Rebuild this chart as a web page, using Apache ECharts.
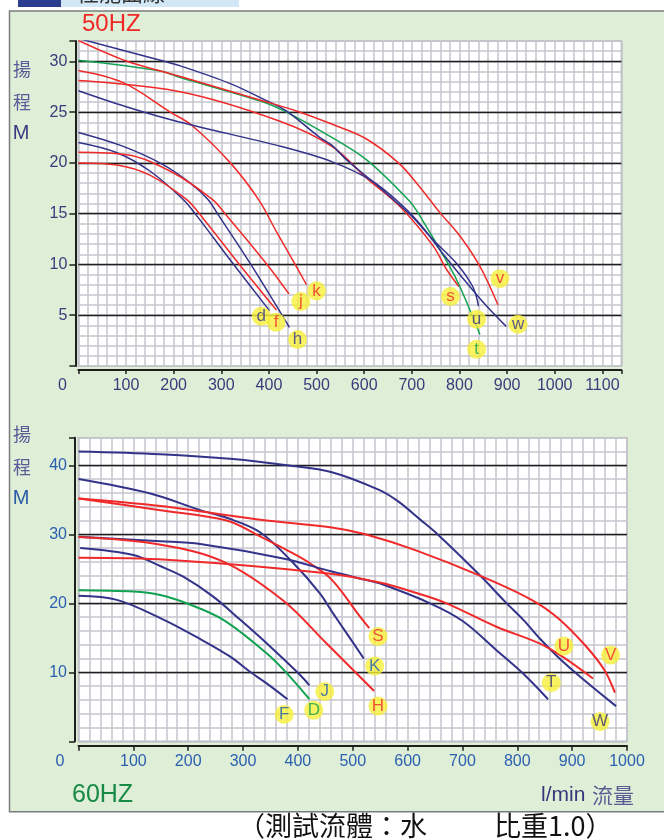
<!DOCTYPE html>
<html><head><meta charset="utf-8">
<script src="https://cdn.jsdelivr.net/npm/echarts@6/dist/echarts.min.js"></script>
<style>html,body{margin:0;padding:0;background:#fff}#c{width:664px;height:840px}</style>
</head><body><div id="c"></div>
<script>
// ===== 50HZ curves: [flow l/min, head m] =====
const top_d = [[0,22.0],[81,21.0],[150,19.2],[220,16.4],[245,15.0],[326,10.0],[401,5.45]];
const top_f = [[0,20.0],[81,19.8],[150,18.8],[227,16.4],[254,15.0],[338,10.0],[416,5.5]];
const top_h = [[0,23.0],[90,21.7],[175,19.9],[235,18.0],[272,16.4],[292,15.0],[362,10.0],[443,3.8]];
const top_j = [[0,21.05],[102,20.8],[200,19.0],[281,16.4],[308,15.0],[396,10.0],[442,7.1]];
const top_k = [[0,29.1],[94,27.9],[193,25.0],[238,23.7],[319,20.0],[378,16.4],[416,13.2],[455,10.0],[479,8.0]];
const top_s = [[0,28.1],[214,27.0],[423,24.1],[533,21.6],[605,18.5],[675,15.7],[745,11.8],[773,9.5],[799,7.8]];
const top_t = [[0,30.1],[172,29.05],[214,28.4],[388,26.0],[437,25.0],[514,23.0],[605,20.3],[694,16.3],[714,15.0],[777,10.0],[801,7.8],[843,3.1]];
const top_u = [[0,32.25],[172,30.1],[214,29.55],[319,27.8],[396,26.1],[437,25.1],[507,22.5],[533,21.7],[563,20.3],[617,18.2],[661,16.4],[703,14.6],[745,12.4],[794,10.1],[828,7.8],[840,5.9]];
const top_v = [[0,32.05],[102,30.0],[172,29.05],[214,28.5],[388,26.1],[458,25.1],[533,23.8],[603,22.4],[673,19.95],[717,17.6],[759,15.1],[801,12.8],[843,9.8],[881,6.0]];
const top_w = [[0,27.1],[102,25.5],[214,24.0],[423,21.65],[533,20.1],[617,18.2],[680,15.8],[724,13.6],[766,11.0],[815,8.2],[857,5.9],[898,3.9]];
const topLabels = [['d',384,4.9],['f',415,4.3],['h',460,2.6],['j',467,6.35],['k',500,7.4],['s',781,6.85],['t',836,1.65],['u',836,4.6],['v',885,8.6],['w',923,4.1]];

// ===== 60HZ curves =====
const bot_W = [[0,42.0],[149,41.6],[282,40.9],[380,40.0],[462,39.0],[549,36.4],[584,34.7],[622,32.2],[656,29.9],[735,23.8],[778,20.2],[811,17.6],[841,14.9],[877,12.0],[914,9.4],[980,5.1]];
const bot_K = [[0,38.0],[131,35.9],[222,33.5],[270,32.4],[331,30.3],[392,25.8],[440,21.45],[462,18.8],[489,15.65],[520,12.0]];
const bot_V = [[0,35.2],[150,34.1],[331,32.1],[462,31.0],[523,30.0],[614,27.7],[735,23.9],[826,20.5],[875,17.8],[926,13.7],[959,10.3],[978,7.05]];
const bot_S = [[0,35.2],[149,33.5],[270,32.0],[331,29.7],[392,27.2],[422,25.8],[462,23.4],[513,18.1],[530,16.4]];
const bot_T = [[0,29.65],[150,29.0],[222,28.6],[373,26.5],[462,24.6],[523,23.4],[549,22.9],[641,20.0],[701,17.4],[762,13.2],[810,9.85],[856,6.1]];
const bot_H = [[0,29.6],[150,28.5],[265,26.0],[373,20.4],[452,14.2],[539,7.3]];
const bot_J = [[3,28.0],[100,27.0],[149,25.4],[191,23.85],[245,21.0],[295,17.6],[343,14.2],[404,9.6],[421,8.1]];
const bot_U = [[0,26.6],[161,26.3],[452,24.35],[549,23.0],[622,21.35],[671,20.0],[762,16.6],[853,13.7],[938,9.1]];
const bot_D = [[0,21.9],[100,21.7],[149,21.2],[197,20.0],[264,17.6],[343,12.75],[380,9.85],[421,6.1]];
const bot_F = [[0,21.1],[70,20.5],[152,17.75],[220,14.9],[276,12.3],[314,10.0],[343,8.4],[381,6.1]];
const botLabels = [['F',375,3.9],['D',429,4.5],['J',449,7.2],['S',546,15.2],['K',540,10.9],['H',546,5.1],['T',862,8.5],['U',885,13.8],['V',970,12.5],['W',951,2.85]];

// axis ranges
const topX = {min:0, max:1140, major:100, minor:20};
const topY = {min:0, max:32, major:5, minor:1};
const botX = {min:0, max:1000, major:100, minor:20};
const botY = {min:0, max:44, major:10, minor:2};

// ===== styles =====
const NAVY = '#33338a', RED = '#f02a2a', GREEN = '#12a352';
const topCurves = [[top_d,NAVY],[top_f,RED],[top_h,NAVY],[top_j,RED],[top_k,RED],[top_s,RED],[top_t,GREEN],[top_u,NAVY],[top_v,RED],[top_w,NAVY]];
const botCurves = [[bot_W,NAVY],[bot_K,NAVY],[bot_V,RED],[bot_S,RED],[bot_T,NAVY],[bot_H,RED],[bot_J,NAVY],[bot_U,RED],[bot_D,GREEN],[bot_F,NAVY]];
const topLabelColor = {d:NAVY,f:RED,h:NAVY,j:RED,k:RED,s:RED,t:GREEN,u:NAVY,v:RED,w:NAVY};
const botLabelColor = {F:'#1f5db3',D:GREEN,J:'#1f5db3',S:RED,K:'#1f5db3',H:RED,T:'#34347c',U:RED,V:RED,W:'#34347c'};
const FONT = '"Liberation Sans", Arial, sans-serif';
const CJK = '"Noto Sans CJK TC", "Noto Sans CJK SC", sans-serif';
const TOPC = '#3a3a7c', BOTC = '#2a60b0';
const GRAY = '#c4c4cc', BLACK = '#1e1e1e';

function minorX(g, r){ return {gridIndex:g, type:'value', position:'bottom', min:r.min, max:r.max, interval:r.minor,
  axisLine:{show:false,onZero:false}, axisTick:{show:false}, axisLabel:{show:false},
  splitLine:{show:true, lineStyle:{color:GRAY, width:1.5}}, z:0}; }
function minorY(g, r){ return {gridIndex:g, type:'value', position:'left', min:r.min, max:r.max, interval:r.minor,
  axisLine:{show:false,onZero:false}, axisTick:{show:false}, axisLabel:{show:false},
  splitLine:{show:true, lineStyle:{color:GRAY, width:1.5}}, z:0}; }
function mainX(g, r, color, zeroPad, tickLen, offset){ return {gridIndex:g, type:'value', position:'bottom', min:r.min, max:r.max, interval:r.major, offset:offset,
  axisLine:{show:true, onZero:false, lineStyle:{color:BLACK, width:2}},
  axisTick:{show:true, length:tickLen, lineStyle:{color:BLACK, width:1.5}},
  axisLabel:{margin:8, color:color, fontSize:16, fontFamily:FONT,
    formatter:function(v){ if(v===0) return '{z|0}'; return (v % r.major === 0) ? String(v) : ''; },
    rich:{z:{padding:[0,zeroPad,0,0], color:color, fontSize:16, fontFamily:FONT}}},
  splitLine:{show:false}, z:1}; }
function mainY(g, r, color, offset){ return {gridIndex:g, type:'value', position:'left', min:r.min, max:r.max, interval:r.major, offset:offset,
  axisLine:{show:true, onZero:false, lineStyle:{color:BLACK, width:2}},
  axisTick:{show:true, length:6, lineStyle:{color:BLACK, width:1.5}},
  axisLabel:{margin:8, color:color, fontSize:16, fontFamily:FONT,
    formatter:function(v){ return (v===r.min || v===r.max || v % r.major !== 0) ? '' : String(v); }},
  splitLine:{show:true, showMinLine:false, showMaxLine:false, lineStyle:{color:BLACK, width:1.3}}, z:1}; }

const series = [];
topCurves.forEach(function(c){ series.push({type:'line', xAxisIndex:1, yAxisIndex:1, data:c[0], showSymbol:false, smooth:0.35, silent:true, lineStyle:{color:c[1], width:1.5}, z:3}); });
botCurves.forEach(function(c){ series.push({type:'line', xAxisIndex:3, yAxisIndex:3, data:c[0], showSymbol:false, smooth:0.35, silent:true, lineStyle:{color:c[1], width:2}, z:3}); });
function labelSeries(list, colors, xi, yi){ return {type:'scatter', xAxisIndex:xi, yAxisIndex:yi, symbol:'circle', symbolSize:19, silent:true, z:5,
  itemStyle:{color:'#f8ef3a'},
  label:{show:true, position:'inside', formatter:'{b}', fontSize:17, fontFamily:FONT},
  data:list.map(function(l){ return {name:l[0], value:[l[1], l[2]], label:{color:colors[l[0]]}}; })}; }
series.push(labelSeries(topLabels, topLabelColor, 1, 1));
series.push(labelSeries(botLabels, botLabelColor, 3, 3));

const chart = echarts.init(document.getElementById('c'));
chart.setOption({
  animation:false,
  backgroundColor:'#ffffff',
  grid:[
    {left:78.4, top:41, width:543, height:325, show:true, backgroundColor:'#ffffff', borderColor:'#b8b8c0', borderWidth:1.5, containLabel:false, outerBoundsMode:'none'},
    {left:78.5, top:437.7, width:548.5, height:303.6, show:true, backgroundColor:'#ffffff', borderColor:'#b8b8c0', borderWidth:1.5, containLabel:false, outerBoundsMode:'none'}
  ],
  xAxis:[minorX(0, topX), mainX(0, topX, TOPC, 32, 4, 4), minorX(1, botX), mainX(1, botX, BOTC, 37, 5, 4.5)],
  yAxis:[minorY(0, topY), mainY(0, topY, TOPC, 3), minorY(1, botY), mainY(1, botY, BOTC, 3.5)],
  series:series,
  graphic:[
    {type:'rect', z:-100, silent:true, shape:{x:9.5, y:11, width:680, height:800.7}, style:{fill:'#dfeed6', stroke:'#7c7c7c', lineWidth:1.5}},
    {type:'rect', z:-100, silent:true, shape:{x:18, y:0, width:43, height:7}, style:{fill:'#2b3d8f'}},
    {type:'rect', z:-100, silent:true, shape:{x:61, y:0, width:178, height:7}, style:{fill:'#d3e8f7'}},
    {type:'text', z:-90, silent:true, x:77, y:-7, style:{text:'性能曲線', fill:'#333', font:'22px '+CJK, verticalAlign:'middle'}},
    {type:'text', z:10, silent:true, x:82, y:24, style:{text:'50HZ', fill:'#f02828', font:'24px '+FONT, verticalAlign:'middle'}},
    {type:'text', z:10, silent:true, x:72, y:795, style:{text:'60HZ', fill:'#178a46', font:'25px '+FONT, verticalAlign:'middle'}},
    {type:'text', z:10, silent:true, x:541, y:795, style:{text:'l/min', fill:'#35357a', font:'21px '+FONT, verticalAlign:'middle'}},
    {type:'text', z:10, silent:true, x:592, y:795, style:{text:'流量', fill:'#5c5c94', font:'21px '+CJK, verticalAlign:'middle'}},
    {type:'text', z:10, silent:true, x:22, y:69, style:{text:'揚', fill:'#5a5a98', font:'18px '+CJK, align:'center', verticalAlign:'middle'}},
    {type:'text', z:10, silent:true, x:22, y:102, style:{text:'程', fill:'#5a5a98', font:'18px '+CJK, align:'center', verticalAlign:'middle'}},
    {type:'text', z:10, silent:true, x:21, y:133, style:{text:'M', fill:'#3a3a80', font:'20px '+FONT, align:'center', verticalAlign:'middle'}},
    {type:'text', z:10, silent:true, x:22, y:434, style:{text:'揚', fill:'#5a5a98', font:'18px '+CJK, align:'center', verticalAlign:'middle'}},
    {type:'text', z:10, silent:true, x:22, y:467, style:{text:'程', fill:'#5a5a98', font:'18px '+CJK, align:'center', verticalAlign:'middle'}},
    {type:'text', z:10, silent:true, x:21, y:498, style:{text:'M', fill:'#2a5aa8', font:'20px '+FONT, align:'center', verticalAlign:'middle'}},
    {type:'text', z:10, silent:true, x:238, y:826, style:{text:'（測試流體：水', fill:'#111111', font:'27px '+CJK, verticalAlign:'middle'}},
    {type:'text', z:10, silent:true, x:494, y:826, style:{text:'比重1.0）', fill:'#111111', font:'27px '+CJK, verticalAlign:'middle'}}
  ]
});
</script>
</body></html>
